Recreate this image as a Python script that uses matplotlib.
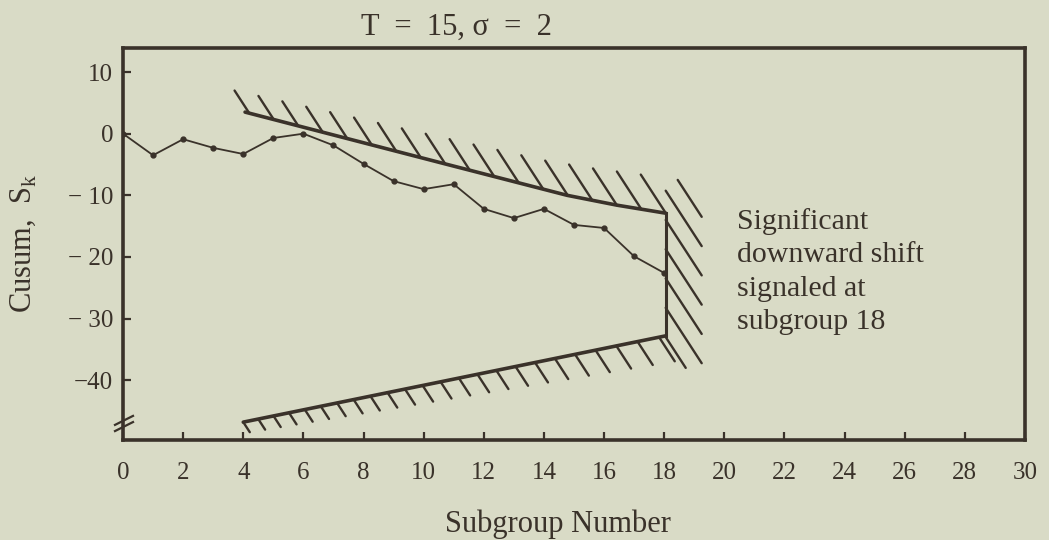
import numpy as np
import matplotlib
matplotlib.use('Agg')
import matplotlib.pyplot as plt
from matplotlib.collections import LineCollection

plt.rcParams['font.family'] = ['Liberation Serif', 'DejaVu Serif']
plt.rcParams['mathtext.fontset'] = 'custom'
plt.rcParams['mathtext.rm'] = 'Liberation Serif'

paper = '#d9dbc6'
ink = '#3a322a'

# cusum S_k for each subgroup (T = 15, sigma = 2)
subgroup = np.arange(0, 19)
cusum = [0.0, -3.5, -0.9, -2.3, -3.3, -0.7, 0.0, -1.9, -4.9, -7.7,
         -9.0, -8.2, -12.2, -13.7, -12.2, -14.8, -15.3, -19.9, -22.6]

# V-mask laid over subgroup 18
mask_upper_x = [4.06, 10.87, 14.77, 16.43, 18.05]
mask_upper_y = [3.5, -5.1, -10.0, -11.6, -12.9]
mask_lower_x = [4.0, 18.05]
mask_lower_y = [-46.8, -32.8]

xticks = np.arange(0, 31, 2)
yticks = [-40, -30, -20, -10, 0, 10]
ytick_labels = ['\u221240', '\u2212 30', '\u2212 20', '\u2212 10', '0', '10']
note_lines = ['Significant', 'downward shift', 'signaled at', 'subgroup 18']

W, H = 1049, 540
fig = plt.figure(figsize=(W / 100, H / 100), dpi=100, facecolor=paper)
ax = fig.add_axes([123 / W, 1 - 440 / H, (1025 - 123) / W, (440 - 48) / H])
ax.set_facecolor(paper)
xmin, xmax, ymin, ymax = 0, 30, -49.7, 13.9
ax.set_xlim(xmin, xmax)
ax.set_ylim(ymin, ymax)

# pixels per data unit, used to size the hatch strokes
sx = (1025 - 123) / (xmax - xmin)
sy = (440 - 48) / (ymax - ymin)
ux, uy = 0.545, 0.839  # "\" stroke direction in image pixels (down-right)

for s in ax.spines.values():
    s.set_linewidth(2.6)
    s.set_color(ink)

ax.set_xticks(xticks)
ax.set_xticklabels([str(v) for v in xticks])
ax.set_yticks(yticks)
ax.set_yticklabels(ytick_labels)
ax.tick_params(direction='in', length=6, width=1.6, color=ink, labelcolor=ink,
               labelsize=18)
ax.tick_params(axis='x', pad=16)
ax.tick_params(axis='y', pad=7)

# cusum trace
ax.plot(subgroup, cusum, color=ink, lw=1.3, marker='o', ms=3.5,
        mec=ink, mfc=ink, zorder=4)

# mask arms and the vertical edge
ax.plot(mask_upper_x, mask_upper_y, color=ink, lw=2.6, solid_capstyle='round', zorder=3)
ax.plot(mask_lower_x, mask_lower_y, color=ink, lw=2.6, solid_capstyle='round', zorder=3)
ax.plot([mask_upper_x[-1], mask_lower_x[-1]], [mask_upper_y[-1], mask_lower_y[-1]],
        color=ink, lw=2.2, zorder=3)


def strokes(xs, ys, lengths, sign):
    segs = []
    for x, y, L in zip(xs, ys, lengths):
        segs.append([(x, y), (x + sign * L * ux / sx, y - sign * L * uy / sy)])
    ax.add_collection(LineCollection(segs, colors=ink, linewidths=1.7,
                                     capstyle='round', zorder=3))


# hatching above the upper arm
hx = np.arange(4.2, 18.1, 0.815)
hy = np.interp(hx, mask_upper_x, mask_upper_y)
strokes(hx, hy, np.linspace(27, 46, len(hx)), -1)

# hatching below the lower arm, widening toward subgroup 18
lx = [mask_lower_x[0]]
while lx[-1] < 17.6:
    frac = (lx[-1] - mask_lower_x[0]) / (mask_lower_x[-1] - mask_lower_x[0])
    lx.append(lx[-1] + (15 + 7 * frac) / sx)
lx = np.array(lx)
ly = np.interp(lx, mask_lower_x, mask_lower_y)
frac = (lx - mask_lower_x[0]) / (mask_lower_x[-1] - mask_lower_x[0])
strokes(lx, ly, 12 + 17 * frac, 1)

# hatching to the right of the vertical edge, clipped to a band
x0 = mask_upper_x[-1]
band_top, band_bot, band_w = -7.5, -38.0, 36
segs = []
for yc in np.arange(-33.0, 0.0, 4.75):
    t0 = max(0.0, (yc - band_top) * sy / uy)
    t1 = min(band_w / ux, (yc - band_bot) * sy / uy)
    if t1 <= t0:
        continue
    segs.append([(x0 + t0 * ux / sx, yc - t0 * uy / sy),
                 (x0 + t1 * ux / sx, yc - t1 * uy / sy)])
ax.add_collection(LineCollection(segs, colors=ink, linewidths=1.7,
                                 capstyle='round', zorder=3))

# axis break on the left spine
for dy in (0.0, 1.0):
    ax.plot([-8 / sx, 10 / sx], [-47.6 + dy - 4 / sy, -47.6 + dy + 5 / sy],
            color=ink, lw=1.6, clip_on=False, zorder=5)

# annotation
for i, line in enumerate(note_lines):
    ax.text(20.42, -15.5 - 5.4 * i, line, fontsize=21.5, color=ink,
            ha='left', va='baseline')

fig.text(456 / W, 1 - 35 / H, 'T  =  15, \u03c3  =  2', fontsize=22, color=ink,
         ha='center', va='baseline')
fig.text(558 / W, 1 - 532 / H, 'Subgroup Number', fontsize=22, color=ink,
         ha='center', va='baseline')
fig.text(23 / W, 1 - 243 / H, r'Cusum,  S$_\mathrm{k}$', fontsize=22, color=ink,
         ha='center', va='center', rotation=90)

fig.savefig('out.png', dpi=100, facecolor=paper)
